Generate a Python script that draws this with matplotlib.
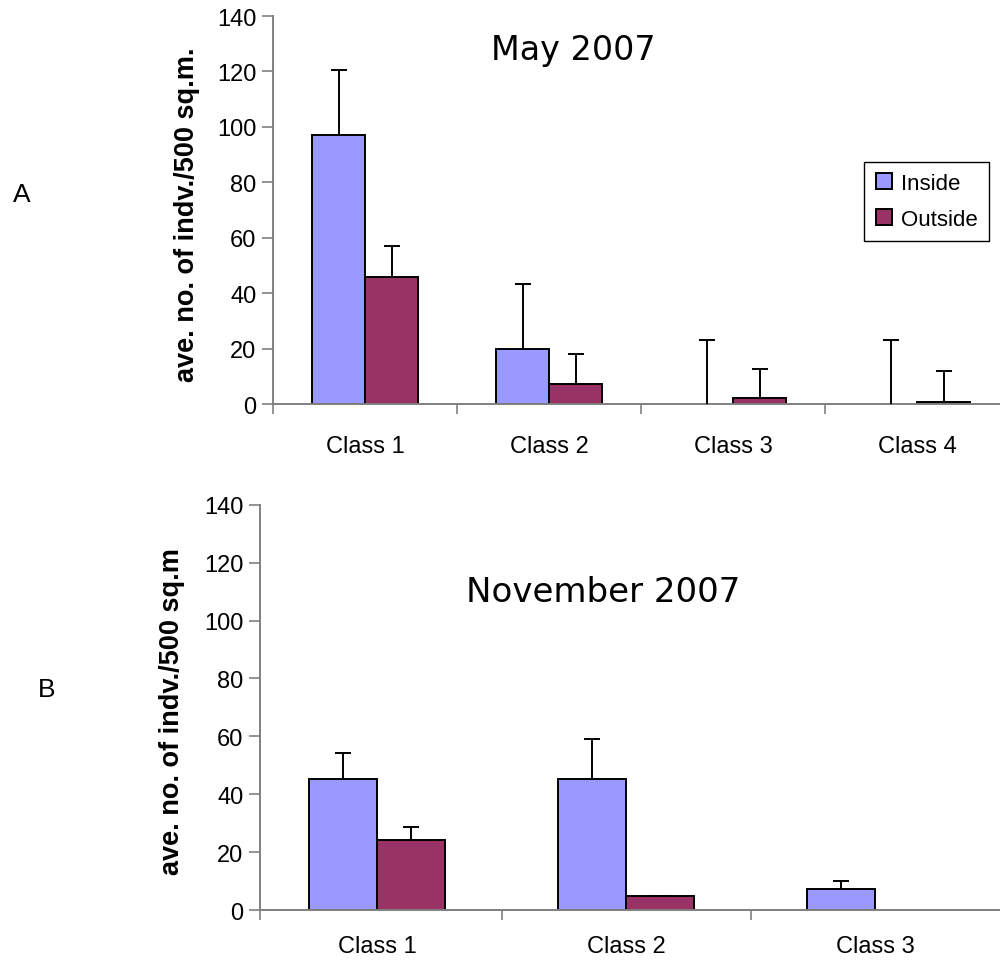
import numpy as np
import matplotlib
matplotlib.use("Agg")
import matplotlib.pyplot as plt

plt.rcParams["font.family"] = ["Liberation Sans", "DejaVu Sans"]

INSIDE_COLOR = "#9999FF"
OUTSIDE_COLOR = "#993366"
AXIS_GRAY = "#808080"

# panel A - May 2007
may_classes = ["Class 1", "Class 2", "Class 3", "Class 4"]
may_inside = [97, 20, 0, 0]
may_inside_err = [23.5, 23.2, 23.2, 23.2]
may_outside = [46, 7.2, 2.0, 0.6]
may_outside_err = [11.1, 10.7, 10.6, 11.4]

# panel B - November 2007
nov_classes = ["Class 1", "Class 2", "Class 3"]
nov_inside = [45.2, 45.2, 7.3]
nov_inside_err = [9.2, 13.9, 2.6]
nov_outside = [24.3, 4.8, 0]
nov_outside_err = [4.5, 0, np.nan]

y_ticks = [0, 20, 40, 60, 80, 100, 120, 140]


def draw_panel(ax, classes, inside, inside_err, outside, outside_err, width,
               x_left, x_right, label_pad):
    x = np.arange(len(classes))
    series = [
        (inside, inside_err, INSIDE_COLOR, "Inside", -width / 2),
        (outside, outside_err, OUTSIDE_COLOR, "Outside", width / 2),
    ]
    for values, errs, color, label, offset in series:
        values = np.array(values, dtype=float)
        errs = np.array(errs, dtype=float)
        bars = ax.bar(x + offset, values, width, color=color, edgecolor="black",
                      linewidth=1.4, label=label, zorder=2)
        # empty bars leave no outline on the axis
        for patch, value in zip(bars.patches, values):
            if value == 0:
                patch.set_linewidth(0)
        err_y = np.where(np.isnan(errs), np.nan, values)
        eb = ax.errorbar(x + offset, err_y, yerr=[np.zeros_like(errs), errs],
                         fmt="none", ecolor="black", elinewidth=1.4, capsize=6,
                         capthick=1.4, zorder=3)
        # only the upper cap is shown
        eb[1][0].set_visible(False)

    ax.set_xlim(x_left, x_right)
    ax.set_ylim(0, 140)
    ax.set_yticks(y_ticks)
    ax.tick_params(axis="y", labelsize=17, length=8, width=1.2, color=AXIS_GRAY, pad=4)

    boundaries = [x_left] + [b for b in np.arange(len(classes)) + 0.5 if b < x_right]
    ax.set_xticks(boundaries)
    ax.set_xticklabels([""] * len(boundaries))
    ax.tick_params(axis="x", which="major", length=7, width=1.2, color=AXIS_GRAY)
    ax.set_xticks(x, minor=True)
    ax.set_xticklabels(classes, minor=True)
    ax.tick_params(axis="x", which="minor", length=0, labelsize=17, pad=label_pad)

    for side in ["top", "right"]:
        ax.spines[side].set_visible(False)
    for side in ["left", "bottom"]:
        ax.spines[side].set_color(AXIS_GRAY)
        ax.spines[side].set_linewidth(1.4)


fig = plt.figure(figsize=(10, 9.62), dpi=100)

ax_top = fig.add_axes([0.273, 0.579, 0.727, 0.4033])
draw_panel(ax_top, may_classes, may_inside, may_inside_err, may_outside,
           may_outside_err, 0.288, -0.5, 3.45, 22)

ax_bot = fig.add_axes([0.26, 0.053, 0.74, 0.4213])
draw_panel(ax_bot, nov_classes, nov_inside, nov_inside_err, nov_outside,
           nov_outside_err, 0.273, -0.47, 2.5, 18)

legend = ax_top.legend(loc="upper right", bbox_to_anchor=(0.989, 0.8306),
                       bbox_transform=fig.transFigure, borderaxespad=0,
                       fontsize=16, fancybox=False, framealpha=1,
                       handlelength=0.75, handleheight=0.75, handletextpad=0.4,
                       borderpad=0.5, labelspacing=0.65)
legend.get_frame().set_edgecolor("black")
legend.get_frame().set_linewidth(1.0)

fig.text(0.573, 0.948, "May 2007", fontsize=24, family="DejaVu Sans",
         ha="center", va="center")
fig.text(0.603, 0.3846, "November 2007", fontsize=24.5, family="DejaVu Sans",
         ha="center", va="center")

fig.text(0.187, 1 - 215 / 962, "ave. no. of indv./500 sq.m.", fontsize=19.5,
         fontweight="bold", rotation=90, ha="center", va="center")
fig.text(0.172, 1 - 712 / 962, "ave. no. of indv./500 sq.m", fontsize=19.5,
         fontweight="bold", rotation=90, ha="center", va="center")

fig.text(0.022, 1 - 195 / 962, "A", fontsize=19, ha="center", va="center")
fig.text(0.047, 1 - 690 / 962, "B", fontsize=19, ha="center", va="center")

fig.savefig("out.png", dpi=100)
plt.close(fig)
